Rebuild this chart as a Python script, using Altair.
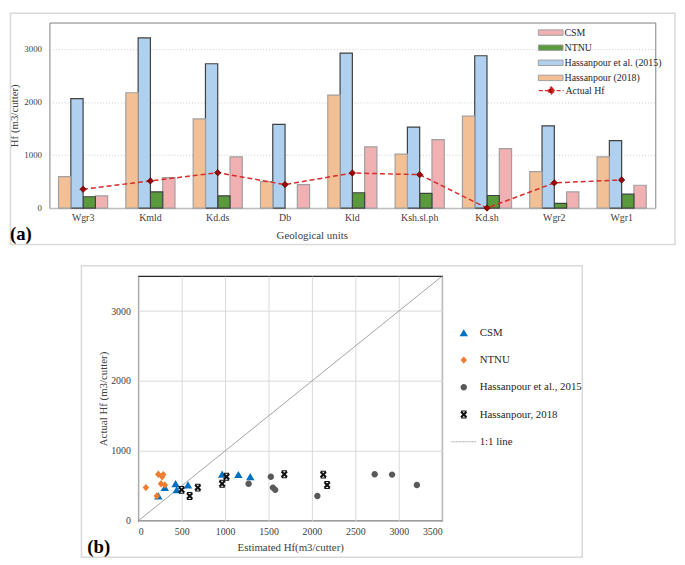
import altair as alt
import pandas as pd

# ---------------- data ----------------
units = ['Wgr3', 'Kmld', 'Kd.ds', 'Db', 'Kld', 'Ksh.sl.ph', 'Kd.sh', 'Wgr2', 'Wgr1']
hassanpour_2018 = [592, 2175, 1682, 499, 2131, 1016, 1733, 686, 966]
hassanpour_2015 = [2063, 3209, 2723, 1577, 2923, 1527, 2873, 1551, 1271]
ntnu = [213, 306, 231, None, 288, 275, 237, 88, 262]
csm = [231, 573, 966, 443, 1153, 1290, 1121, 306, 430]
actual_hf = [355, 512, 667, 443, 661, 630, 0, 475, 530]

bar_models = ['CSM', 'NTNU', 'Hassanpour et al. (2015)', 'Hassanpour (2018)']
scatter_models = ['CSM', 'NTNU', 'Hassanpour et al., 2015', 'Hassanpour, 2018', '1:1 line']
one_to_one = [0, 3500]
y_ticks_a = [0, 500, 1000, 1500, 2000, 2500, 3000, 3500]
x_ticks_b = [0, 500, 1000, 1500, 2000, 2500, 3000, 3500]
y_ticks_b = [0, 1000, 2000, 3000]

estimates = [csm, ntnu, hassanpour_2015, hassanpour_2018]

# ---------------- tables ----------------
bar_rows = []
for m, vals in zip(bar_models, estimates):
    for u, v in zip(units, vals):
        if v is not None:
            bar_rows.append({'unit': u, 'model': m, 'value': v})
bar_df = pd.DataFrame(bar_rows)

line_df = pd.DataFrame({'unit': units, 'actual': actual_hf, 'series': ['Actual Hf'] * len(units)})

sc_rows = []
for m, vals in zip(scatter_models[:4], estimates):
    for v, a in zip(vals, actual_hf):
        if v is not None and a > 0:
            sc_rows.append({'model': m, 'est': v, 'act': a})
sc_df = pd.DataFrame(sc_rows)

diag_df = pd.DataFrame({'x': one_to_one, 'y': one_to_one})

FONT = 'Liberation Serif'

# ---------------- styles ----------------
bar_colors = ['#f1b0b2', '#5a9a3c', '#afd0ee', '#f3c096']
bar_order = ['Hassanpour (2018)', 'Hassanpour et al. (2015)', 'NTNU', 'CSM']
rect_path = 'M-1,-0.55H4V0.55H-1Z'
line_path = 'M-1,0H4M1.5,-0.7L2.2,0L1.5,0.7L0.8,0Z'

tri = 'M0,-0.75L0.85,0.7L-0.85,0.7Z'
dia = 'M0,-0.75L0.65,0L0,0.75L-0.65,0Z'
circ = 'M0.65,0A0.65,0.65 0 1,1 -0.65,0A0.65,0.65 0 1,1 0.65,0Z'
xmark = ('M-0.7,-0.4L-0.4,-0.7L0,-0.3L0.4,-0.7L0.7,-0.4L0.3,0L0.7,0.4L0.4,0.7L0,0.3'
         'L-0.4,0.7L-0.7,0.4L-0.3,0Z'
         'M-0.55,-0.8H0.55V-0.6H-0.55Z M-0.55,0.6H0.55V0.8H-0.55Z')
dots = ''.join('M%.2f,-0.09H%.2fV0.09H%.2fZ' % (-2.5 + 0.3 * i, -2.3 + 0.3 * i, -2.5 + 0.3 * i)
               for i in range(17))
scatter_shapes = [tri, dia, circ, xmark, dots]
scatter_colors = ['#0070c0', '#ed7d31', '#595959', '#111111', '#a6a6a6']


def frame(x1, x2, y1, y2):
    return alt.Chart(pd.DataFrame({'f': [0]})).mark_rect(
        fill='transparent', stroke='#d9d9d9', strokeWidth=1.5
    ).encode(x=alt.value(x1), x2=alt.value(x2), y=alt.value(y1), y2=alt.value(y2))


def panel_label(txt, x, y):
    return alt.Chart(pd.DataFrame({'t': [txt]})).mark_text(
        align='left', baseline='middle', fontSize=19, fontWeight='bold', font=FONT, color='black'
    ).encode(x=alt.value(x), y=alt.value(y), text='t:N')


# ---------------- panel (a) ----------------
x_scale_a = alt.Scale(domain=units, paddingInner=0.27, paddingOuter=0.135)
y_scale_a = alt.Scale(domain=[0, 3500], nice=False)
x_axis_a = alt.Axis(labelFontSize=10, labelColor='#404040', labelPadding=5, ticks=False,
                    domainColor='#bfbfbf', domainWidth=1.5, labelAngle=0, grid=False,
                    titleFontSize=11, titleColor='#404040', titlePadding=7, titleX=302,
                    titleAlign='right')
y_axis_a = alt.Axis(values=y_ticks_a, format='d', labelFontSize=9, labelColor='#404040',
                    labelPadding=8, ticks=False, domain=False, grid=True, gridColor='#bfbfbf',
                    gridDash=[1, 2], gridWidth=0.8, titleFontSize=11, titleColor='#404040',
                    titlePadding=4)
XT = 'Geological units'
YT = 'Hf (m3/cutter)'

bars = alt.Chart(bar_df).mark_bar(strokeWidth=1.2).encode(
    x=alt.X('unit:N', sort=units, scale=x_scale_a, axis=x_axis_a, title=XT),
    xOffset=alt.XOffset('model:N', sort=bar_order, scale=alt.Scale(paddingInner=0, paddingOuter=0)),
    y=alt.Y('value:Q', scale=y_scale_a, axis=y_axis_a, title=YT),
    fill=alt.Fill('model:N', scale=alt.Scale(domain=bar_models, range=bar_colors),
                  legend=alt.Legend(title=None, orient='none', legendX=495, legendY=4.7,
                                    symbolType=rect_path, symbolSize=100, symbolStrokeWidth=1,
                                    labelFontSize=10, labelColor='#262626', labelOffset=16,
                                    rowPadding=4.3, padding=0)),
    stroke=alt.condition(
        alt.FieldOneOfPredicate(field='model', oneOf=['NTNU', 'Hassanpour et al. (2015)']),
        alt.value('#404040'), alt.value('#a0a0a0')),
)

line = alt.Chart(line_df).mark_line(strokeDash=[5, 3], strokeWidth=1.5).encode(
    x=alt.X('unit:N', sort=units, scale=x_scale_a, title=XT),
    y=alt.Y('actual:Q', scale=y_scale_a, title=YT),
    stroke=alt.Stroke('series:N', scale=alt.Scale(domain=['Actual Hf'], range=['#d92b2b']),
                      legend=alt.Legend(title=None, orient='none', legendX=495, legendY=63,
                                        symbolType=line_path, symbolSize=100,
                                        symbolFillColor='#a00000', symbolStrokeWidth=1.5,
                                        symbolDash=[4, 2],
                                        labelFontSize=10, labelColor='#262626', labelOffset=16,
                                        padding=0)),
)

pts = alt.Chart(line_df).mark_point(shape='diamond', filled=True, size=40, fill='#a00000',
                                    stroke='#5a0000', strokeWidth=0.8, opacity=1).encode(
    x=alt.X('unit:N', sort=units, scale=x_scale_a, title=XT),
    y=alt.Y('actual:Q', scale=y_scale_a, title=YT),
)

top = alt.layer(
    frame(-39.5, 634, -9.5, 225), bars, line, pts, panel_label('(a)', -40, 214)
).properties(width=614, height=188, view=alt.ViewBackground(stroke='#7f7f7f', strokeWidth=1))

# ---------------- panel (b) ----------------
sc_scale = alt.Scale(domain=[0, 3500], nice=False)
x_axis_b = alt.Axis(values=x_ticks_b, format='d', labelFontSize=10, labelColor='#404040',
                    labelPadding=6, ticks=False, domain=False, grid=True, gridColor='#d9d9d9',
                    gridWidth=1, titleFontSize=11, titleColor='#404040', titlePadding=5)
y_axis_b = alt.Axis(values=y_ticks_b, format='d', labelFontSize=10, labelColor='#404040',
                    labelPadding=8, ticks=False, domain=False, grid=True, gridColor='#d9d9d9',
                    gridWidth=1, titleFontSize=11, titleColor='#404040', titlePadding=2)
XB = 'Estimated Hf(m3/cutter)'
YB = 'Actual Hf (m3/cutter)'

leg_b = alt.Legend(title=None, orient='none', legendX=324.4, legendY=52, symbolSize=100,
                   symbolStrokeWidth=0, labelFontSize=11, labelColor='#262626', labelOffset=10.6,
                   rowPadding=15.6, padding=0)

diag = alt.Chart(diag_df).mark_line(color='#8c8c8c', strokeWidth=0.8).encode(
    x=alt.X('x:Q', scale=sc_scale, axis=x_axis_b, title=XB),
    y=alt.Y('y:Q', scale=sc_scale, axis=y_axis_b, title=YB),
)

scatter = alt.Chart(sc_df).mark_point(filled=True, size=100, opacity=1).encode(
    x=alt.X('est:Q', scale=sc_scale, axis=x_axis_b, title=XB),
    y=alt.Y('act:Q', scale=sc_scale, axis=y_axis_b, title=YB),
    color=alt.Color('model:N', scale=alt.Scale(domain=scatter_models, range=scatter_colors),
                    legend=leg_b),
    shape=alt.Shape('model:N', scale=alt.Scale(domain=scatter_models, range=scatter_shapes),
                    legend=leg_b),
)

bottom = alt.layer(
    frame(-57.6, 450, -10.4, 285), diag, scatter, panel_label('(b)', -51.6, 275)
).properties(width=308, height=248, view=alt.ViewBackground(stroke='#262626', strokeWidth=1.2))

spacer = alt.Chart(pd.DataFrame({'s': [0]})).mark_rect(opacity=0).encode(
    x=alt.value(0), x2=alt.value(1), y=alt.value(0), y2=alt.value(1)
).properties(width=1, height=1, view=alt.ViewBackground(stroke='transparent'))

indep = dict(color='independent', shape='independent', fill='independent', stroke='independent')

lower = alt.hconcat(spacer, bottom, spacing=29).resolve_scale(**indep).resolve_legend(**indep)

chart = alt.vconcat(top, lower, spacing=18).resolve_scale(**indep).resolve_legend(**indep).properties(
    padding={'left': 0, 'top': 0, 'right': 0, 'bottom': 0}
).configure(font=FONT).configure_axis(
    labelFont=FONT, titleFont=FONT, titleFontWeight='normal'
).configure_legend(labelFont=FONT)

chart.save("out.html", embed_options={"renderer": "svg", "actions": False})
